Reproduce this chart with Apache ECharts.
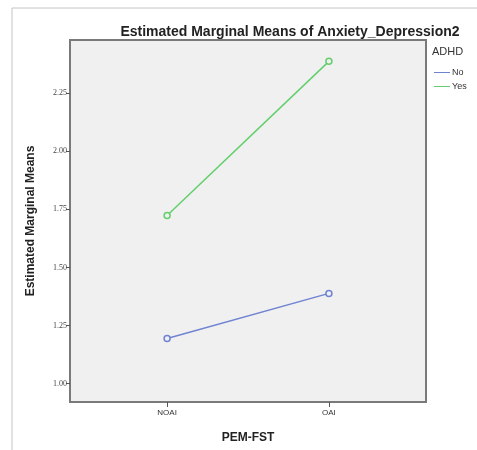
<!DOCTYPE html>
<html style="height: 100%">
  <head>
    <meta charset="utf-8" />
  </head>
  <body style="height: 100%; margin: 0; background: #fff">
    <div id="container" style="width: 477px; height: 450px"></div>
    <script src="https://cdn.jsdelivr.net/npm/echarts@6/dist/echarts.min.js"></script>
    <script type="text/javascript">
      // PEM-FST groups and ADHD lines
      var categories = ["NOAI", "OAI"];
      var seriesNames = ["No", "Yes"];
      var noValues = [1.194, 1.388];
      var yesValues = [1.724, 2.388];
      var yTicks = [1.0, 1.25, 1.5, 1.75, 2.0, 2.25];

      var colors = ["#6f83d2", "#62cf6c"];

      function pts(vals) {
        return vals.map(function (v, i) {
          return [i, v];
        });
      }

      var dom = document.getElementById("container");
      var myChart = echarts.init(dom, null, { renderer: "canvas" });

      var option = {
        animation: false,
        color: colors,
        title: {
          text: "Estimated Marginal Means of Anxiety_Depression2",
          left: 285,
          top: 20,
          textAlign: "center",
          textStyle: {
            fontFamily: "Liberation Sans",
            fontSize: 14,
            fontWeight: "bold",
            color: "#222",
          },
        },
        graphic: [
          {
            type: "rect",
            shape: { x: 12, y: 8, width: 600, height: 600 },
            style: { fill: "none", stroke: "#c4c4c4", lineWidth: 1 },
            silent: true,
          },
          {
            type: "text",
            left: 432,
            top: 46,
            style: {
              text: "ADHD",
              font: "11px Liberation Sans",
              fill: "#333",
            },
          },
        ],
        legend: {
          data: seriesNames.map(function (n, i) {
            return { name: n, itemStyle: { color: colors[i], borderWidth: 0 } };
          }),
          orient: "vertical",
          left: 429,
          top: 63,
          itemWidth: 16,
          itemHeight: 1,
          itemGap: 5,
          icon: "rect",
          textStyle: {
            fontFamily: "Liberation Sans",
            fontSize: 9,
            color: "#333",
            padding: [0, 0, 0, -3],
          },
        },
        grid: {
          left: 70,
          right: 51,
          top: 40,
          bottom: 48,
          show: true,
          backgroundColor: "#f0f0f0",
          borderColor: "#7a7a7a",
          borderWidth: 2,
        },
        xAxis: {
          type: "value",
          min: -0.6,
          max: 1.6,
          name: "PEM-FST",
          nameLocation: "middle",
          nameGap: 30,
          nameTextStyle: {
            fontFamily: "Liberation Sans",
            fontSize: 12,
            fontWeight: "bold",
            color: "#222",
          },
          splitLine: { show: false },
          axisLine: { show: false, onZero: false },
          axisTick: {
            show: true,
            customValues: [0, 1],
            length: 5,
            lineStyle: { color: "#555", width: 1 },
          },
          axisLabel: {
            customValues: [0, 1],
            margin: 7,
            fontFamily: "Liberation Sans",
            fontSize: 8,
            color: "#333",
            formatter: function (v) {
              return categories[Math.round(v)] || "";
            },
          },
        },
        yAxis: {
          type: "value",
          min: 0.92,
          max: 2.48,
          name: "Estimated Marginal Means",
          nameLocation: "middle",
          nameGap: 33,
          nameTextStyle: {
            fontFamily: "Liberation Sans",
            fontSize: 12,
            fontWeight: "bold",
            color: "#222",
          },
          splitLine: { show: false },
          axisLine: { show: false, onZero: false },
          axisTick: {
            show: true,
            customValues: yTicks,
            length: 4,
            lineStyle: { color: "#555", width: 1 },
          },
          axisLabel: {
            customValues: yTicks,
            margin: 3,
            fontFamily: "Liberation Serif",
            fontSize: 8,
            color: "#444",
            formatter: function (v) {
              return v.toFixed(2);
            },
          },
        },
        series: [
          {
            name: seriesNames[0],
            type: "line",
            data: pts(noValues),
            symbol: "circle",
            symbolSize: 6,
            itemStyle: { color: "#f0f0f0", borderColor: colors[0], borderWidth: 1.5 },
            lineStyle: { color: colors[0], width: 1.5 },
          },
          {
            name: seriesNames[1],
            type: "line",
            data: pts(yesValues),
            symbol: "circle",
            symbolSize: 6,
            itemStyle: { color: "#f0f0f0", borderColor: colors[1], borderWidth: 1.5 },
            lineStyle: { color: colors[1], width: 1.5 },
          },
        ],
      };

      myChart.setOption(option);
    </script>
  </body>
</html>
